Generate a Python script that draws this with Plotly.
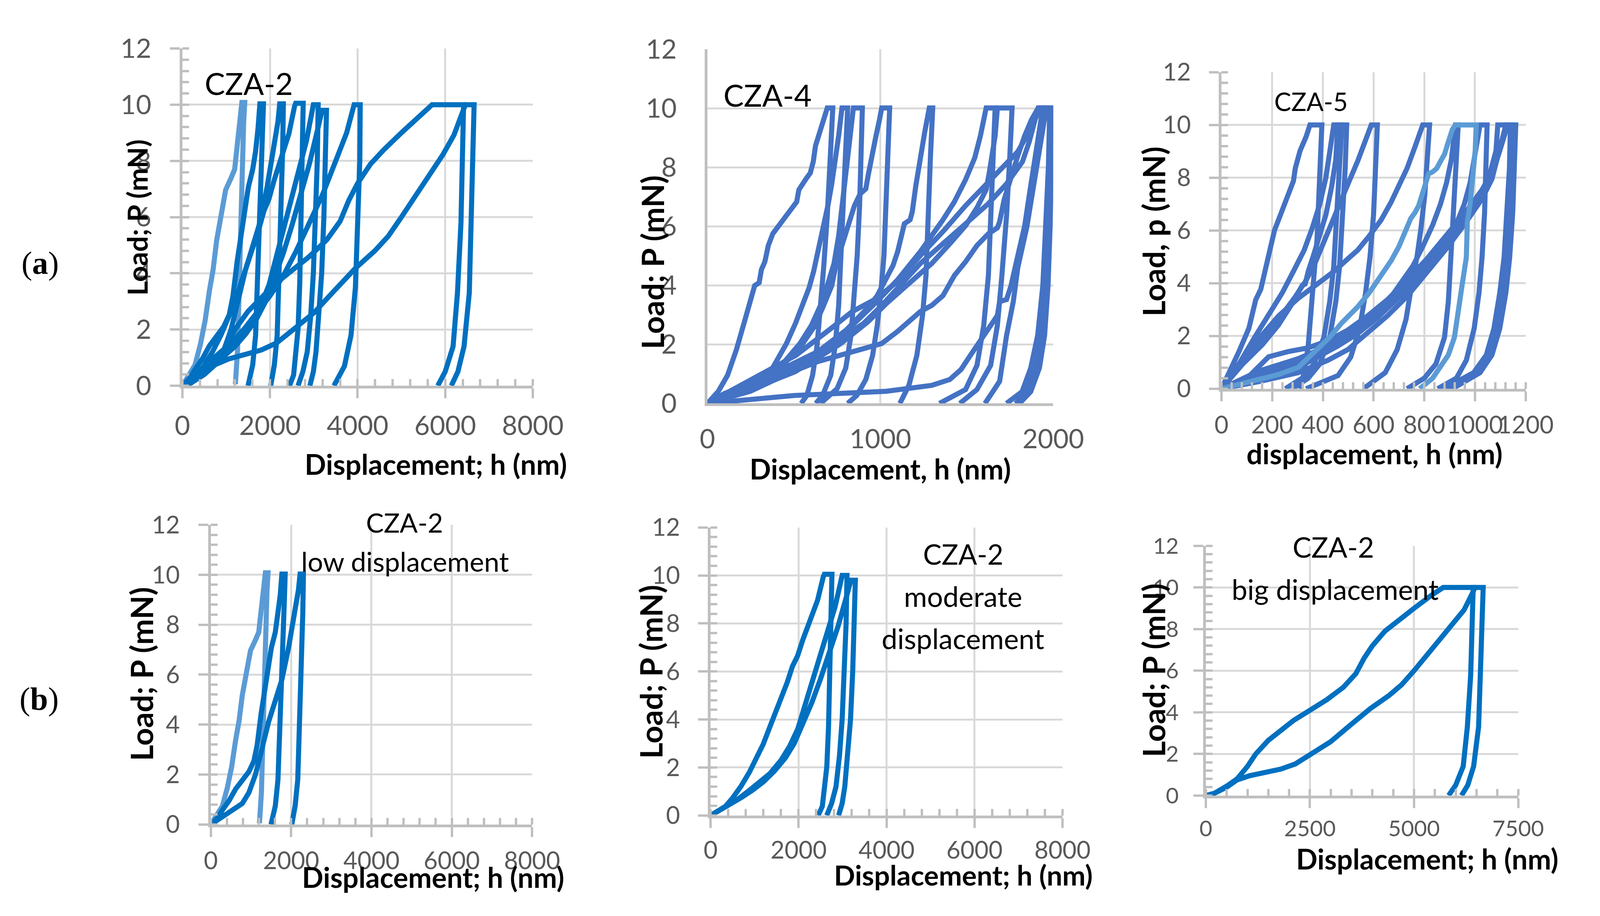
import plotly.graph_objects as go

# reference frame (px) used for positions; figure itself is sized to the captured viewport
RW, RH = 4377, 2344
FW, FH = 4085, 2336

# ---------------- CZA-2 loops (load P in mN vs displacement h in nm) ----------------
cza2_L_h = [0, 288, 412, 519, 617, 700, 782, 881, 988, 1111, 1193, 1259, 1317, 1358, 1424, 1399, 1358, 1317, 1259, 1210]
cza2_L_p = [0, 0.74, 1.48, 2.32, 3.38, 4.12, 5.17, 6.02, 6.97, 7.39, 7.7, 8.66, 9.39, 10.08, 10.08, 9.39, 7.07, 3.91, 1.27, 0.05]

cza2_A_h = [0, 165, 288, 453, 617, 782, 946, 1070, 1152, 1251, 1317, 1374, 1440, 1506, 1605, 1671, 1728, 1769, 1851, 1835, 1810, 1769, 1728, 1671, 1605, 1498]
cza2_A_p = [0, 0.26, 0.58, 0.95, 1.42, 1.79, 2.11, 2.53, 3.17, 4.43, 5.17, 5.80, 6.44, 7.07, 7.70, 8.34, 9.18, 10.03, 10.03, 9.18, 8.13, 6.02, 3.91, 1.79, 0.74, 0]

cza2_B_h = [0, 150, 370, 580, 782, 946, 1111, 1276, 1440, 1605, 1769, 1934, 2057, 2181, 2222, 2305, 2290, 2263, 2222, 2164, 2099, 2016]
cza2_B_p = [0, 0.15, 0.42, 0.62, 0.84, 1.27, 2.0, 3.06, 4.12, 4.96, 5.8, 7.07, 8.13, 9.39, 10.03, 10.03, 8.5, 7.07, 3.9, 1.79, 0.74, 0]

cza2_C_h = [0, 180, 336, 492, 688, 883, 1039, 1195, 1391, 1586, 1742, 1859, 1977, 2094, 2250, 2430, 2562, 2586, 2758, 2742, 2719, 2680, 2641, 2586, 2539, 2445]
cza2_C_p = [0, 0.22, 0.38, 0.71, 1.21, 1.81, 2.36, 2.97, 3.9, 4.79, 5.55, 6.21, 6.65, 7.31, 8.08, 8.96, 9.95, 10.05, 10.05, 8.08, 5.88, 3.68, 2.03, 0.93, 0.38, 0]

cza2_D_h = [0, 150, 350, 600, 850, 1100, 1350, 1600, 1800, 1980, 2150, 2320, 2490, 2660, 2830, 2990, 3100, 3080, 3040, 2990, 2930, 2850, 2750, 2640]
cza2_D_p = [0, 0.15, 0.35, 0.65, 1.0, 1.35, 1.75, 2.3, 2.9, 3.6, 4.6, 5.6, 6.6, 7.6, 8.7, 10.0, 10.0, 8.0, 6.0, 4.0, 2.5, 1.2, 0.5, 0]

cza2_E_h = [0, 200, 450, 700, 950, 1200, 1450, 1700, 1900, 2100, 2300, 2500, 2700, 2900, 3100, 3190, 3290, 3270, 3230, 3180, 3120, 3050, 2990, 2910]
cza2_E_p = [0, 0.2, 0.45, 0.75, 1.05, 1.4, 1.85, 2.4, 3.0, 3.8, 4.7, 5.7, 6.8, 7.9, 9.2, 9.8, 9.8, 8.0, 6.0, 4.0, 2.5, 1.2, 0.5, 0]

cza2_F_h = [0, 200, 500, 800, 1100, 1400, 1700, 2000, 2300, 2600, 2900, 3200, 3500, 3750, 3920, 4060, 4050, 4010, 3950, 3850, 3700, 3460]
cza2_F_p = [0, 0.3, 0.7, 1.1, 1.5, 2.0, 2.6, 3.2, 3.9, 4.8, 5.8, 6.8, 8.0, 9.0, 10.0, 10.0, 8.0, 6.0, 3.5, 1.8, 0.7, 0]

cza2_G_h = [0, 200, 500, 750, 1000, 1200, 1500, 1800, 2100, 2500, 2900, 3300, 3600, 3800, 4000, 4300, 4600, 5000, 5400, 5700, 6420, 6400, 6360, 6280, 6180, 6000, 5830]
cza2_G_p = [0, 0.1, 0.45, 0.8, 1.4, 2.0, 2.65, 3.15, 3.6, 4.1, 4.6, 5.2, 5.85, 6.6, 7.2, 7.9, 8.4, 9.0, 9.6, 10.0, 10.0, 8.4, 5.8, 3.3, 1.4, 0.5, 0]

cza2_H_h = [0, 200, 500, 750, 1050, 1350, 1800, 2150, 2500, 3000, 3450, 3950, 4400, 4700, 5000, 5350, 5650, 5950, 6200, 6420, 6460, 6660, 6640, 6600, 6550, 6430, 6290, 6140]
cza2_H_p = [0, 0.1, 0.4, 0.75, 0.95, 1.08, 1.27, 1.52, 1.96, 2.59, 3.35, 4.18, 4.81, 5.32, 6.0, 6.84, 7.59, 8.23, 8.92, 9.8, 10.0, 10.0, 8.4, 5.8, 3.3, 1.4, 0.5, 0]

# ---------------- CZA-4 loops ----------------
cza4_loops = [
    ([0, 63, 116, 168, 214, 247, 273, 299, 312, 332, 352, 378, 411, 450, 483, 516, 529, 549, 575, 595, 612, 625, 647, 673, 693, 725, 712, 693, 673, 654, 634, 608, 575, 542],
     [0, 0.41, 0.95, 1.83, 2.77, 3.52, 3.99, 4.09, 4.53, 4.80, 5.35, 5.75, 6.02, 6.36, 6.63, 6.83, 7.24, 7.44, 7.65, 7.81, 8.19, 8.73, 9.13, 9.61, 10.01, 10.01, 8.39, 6.36, 4.67, 3.32, 1.96, 0.95, 0.27, 0]),
    ([0, 100, 220, 312, 365, 404, 457, 509, 549, 588, 614, 640, 660, 680, 699, 719, 739, 759, 778, 811, 798, 785, 772, 759, 739, 713, 666, 627],
     [0, 0.34, 0.61, 0.81, 1.08, 1.49, 2.03, 2.71, 3.32, 3.92, 4.47, 5.14, 5.68, 6.22, 6.77, 7.44, 8.19, 9.07, 10.01, 10.01, 8.39, 6.7, 5.01, 3.32, 1.96, 0.95, 0.27, 0]),
    ([0, 142, 273, 378, 457, 535, 601, 654, 693, 732, 759, 778, 791, 804, 824, 844, 896, 890, 880, 866, 850, 830, 800, 750, 654],
     [0, 0.41, 0.68, 1.01, 1.49, 2.03, 2.64, 3.32, 3.99, 4.74, 5.68, 6.63, 7.37, 8.25, 9.2, 10.01, 10.01, 8.4, 6.7, 5.0, 3.6, 2.3, 1.2, 0.5, 0]),
    ([0, 181, 312, 444, 535, 614, 667, 719, 745, 772, 811, 850, 883, 916, 929, 949, 975, 995, 1008, 1054, 1047, 1034, 1021, 1001, 982, 955, 916, 864, 811],
     [0, 0.47, 0.74, 1.35, 1.89, 2.57, 3.25, 3.99, 4.74, 5.28, 6.02, 6.7, 7.1, 7.27, 7.71, 8.39, 9.07, 9.61, 10.01, 10.01, 9.07, 7.04, 5.01, 3.65, 2.64, 1.62, 0.81, 0.27, 0]),
    ([0, 247, 444, 575, 693, 772, 850, 929, 982, 1034, 1073, 1100, 1126, 1139, 1172, 1185, 1205, 1231, 1257, 1283, 1303, 1290, 1277, 1264, 1244, 1211, 1165, 1113],
     [0, 0.41, 0.95, 1.42, 1.89, 2.3, 2.77, 3.25, 3.65, 4.19, 4.67, 5.14, 5.68, 6.09, 6.22, 6.5, 7.37, 8.39, 9.2, 10.01, 10.01, 8.39, 6.36, 4.33, 2.98, 1.62, 0.61, 0]),
    ([0, 181, 378, 640, 837, 968, 1100, 1231, 1362, 1428, 1493, 1546, 1579, 1605, 1612, 1664, 1654, 1641, 1625, 1598, 1559, 1493, 1400, 1342],
     [0, 0.54, 1.01, 1.76, 2.64, 3.38, 4.19, 5.14, 6.22, 6.83, 7.58, 8.32, 9.07, 9.74, 10.01, 10.01, 8.39, 6.36, 4.33, 2.64, 1.29, 0.47, 0.15, 0]),
    ([0, 247, 509, 772, 929, 1034, 1165, 1297, 1402, 1493, 1559, 1612, 1631, 1644, 1664, 1677, 1762, 1749, 1730, 1703, 1677, 1638, 1559, 1460],
     [0, 0.47, 1.08, 2.03, 2.77, 3.38, 4.06, 4.74, 5.41, 6.02, 6.63, 7.24, 7.85, 8.39, 9.07, 10.01, 10.01, 8.39, 6.36, 4.33, 2.64, 1.29, 0.47, 0]),
    ([0, 509, 1034, 1297, 1402, 1467, 1520, 1572, 1638, 1677, 1690, 1730, 1756, 1782, 1808, 1835, 1861, 1887, 1913, 1940, 1990, 1985, 1975, 1960, 1935, 1900, 1850, 1782],
     [0, 0.27, 0.41, 0.61, 0.81, 1.15, 1.62, 2.1, 2.64, 2.98, 3.45, 3.52, 3.99, 4.67, 5.28, 6.02, 7.04, 8.05, 9.07, 10.01, 10.01, 8.0, 6.0, 4.0, 2.3, 1.2, 0.4, 0]),
    ([0, 378, 640, 903, 1008, 1100, 1231, 1297, 1362, 1428, 1493, 1559, 1625, 1677, 1690, 1716, 1756, 1795, 1835, 1874, 1913, 1980, 1972, 1958, 1940, 1910, 1870, 1820, 1730],
     [0, 0.81, 1.42, 1.83, 2.03, 2.44, 3.11, 3.32, 3.65, 4.33, 4.8, 5.35, 5.75, 5.95, 6.16, 6.9, 7.71, 8.39, 9.07, 9.61, 10.01, 10.01, 8.0, 6.0, 4.0, 2.3, 1.2, 0.4, 0]),
    ([0, 247, 509, 706, 837, 968, 1100, 1231, 1362, 1493, 1625, 1730, 1795, 1848, 1913, 1927, 1995, 1990, 1982, 1970, 1950, 1920, 1870, 1805],
     [0, 0.81, 1.62, 2.5, 3.11, 3.52, 4.13, 5.01, 5.82, 6.7, 7.51, 8.19, 8.53, 9.07, 9.88, 10.01, 10.01, 8.0, 6.0, 4.0, 2.3, 1.2, 0.4, 0]),
    ([0, 181, 378, 575, 772, 903, 1008, 1100, 1231, 1362, 1493, 1625, 1730, 1822, 1861, 1900, 1913, 1960, 1940, 1913, 1887, 1848, 1795, 1769, 1730, 1690, 1651, 1605],
     [0, 0.47, 0.95, 1.42, 2.17, 2.71, 3.32, 3.92, 4.74, 5.41, 6.09, 6.77, 7.44, 8.19, 8.86, 9.74, 10.01, 10.01, 9.3, 8.5, 7.4, 6.0, 4.6, 3.45, 2.3, 0.75, 0.4, 0]),
]

# ---------------- CZA-5 loops ----------------
cza5_loops = [
    ([0, 37, 69, 108, 135, 155, 178, 209, 233, 265, 284, 291, 310, 334, 349, 396, 392, 385, 377, 365, 353, 342, 326, 310],
     [0, 0.74, 1.41, 2.29, 3.37, 3.77, 4.78, 6.0, 6.6, 7.34, 7.88, 8.35, 9.02, 9.56, 10.0, 10.0, 9.02, 7.0, 5.66, 4.31, 2.96, 1.62, 0.61, 0]),
    ([0, 69, 131, 186, 240, 287, 326, 357, 388, 412, 427, 443, 475, 466, 455, 443, 427, 404, 365, 318, 252],
     [0, 0.94, 1.95, 2.76, 3.64, 4.51, 5.25, 6.06, 7.0, 8.01, 8.89, 10.0, 10.0, 8.35, 6.33, 4.65, 3.3, 1.95, 0.94, 0.4, 0]),
    ([0, 84, 162, 225, 279, 318, 330, 342, 365, 388, 412, 435, 451, 459, 494, 488, 478, 466, 451, 427, 388, 342, 279],
     [0, 0.94, 1.68, 2.42, 3.23, 3.91, 3.97, 4.44, 5.12, 5.79, 6.6, 7.68, 8.69, 10.0, 10.0, 8.35, 6.33, 4.65, 3.3, 1.95, 0.94, 0.4, 0]),
    ([0, 69, 147, 225, 287, 334, 373, 412, 459, 498, 537, 568, 591, 615, 610, 600, 586, 568, 545, 510, 460, 334],
     [0, 0.81, 1.68, 2.63, 3.43, 4.11, 4.85, 5.79, 6.87, 7.74, 8.62, 9.36, 10.0, 10.0, 8.35, 6.6, 5.0, 3.6, 2.3, 1.2, 0.5, 0]),
    ([0, 69, 147, 225, 303, 381, 443, 498, 537, 583, 630, 669, 700, 732, 763, 794, 821, 814, 802, 786, 771, 751, 728, 693, 646, 560],
     [0, 0.94, 1.89, 2.76, 3.43, 3.97, 4.44, 4.92, 5.25, 5.79, 6.4, 7.07, 7.68, 8.35, 9.16, 10.0, 10.0, 8.69, 7.34, 6.0, 4.98, 3.97, 2.63, 1.48, 0.61, 0]),
    ([0, 147, 303, 420, 498, 552, 615, 661, 708, 755, 794, 833, 864, 888, 907, 923, 934, 926, 918, 911, 903, 895, 880, 846, 800, 732],
     [0, 0.67, 1.14, 1.62, 1.95, 2.29, 2.83, 3.37, 3.97, 4.65, 5.39, 6.2, 7.0, 7.81, 8.69, 10.0, 10.0, 8.35, 7.0, 6.0, 4.65, 3.3, 1.95, 0.94, 0.4, 0]),
    ([0, 147, 303, 459, 537, 615, 693, 771, 833, 888, 927, 958, 981, 997, 1020, 1048, 1044, 1038, 1028, 1016, 997, 966, 927, 853],
     [0, 0.4, 0.81, 1.62, 2.09, 2.69, 3.37, 4.11, 4.78, 5.52, 6.26, 7.0, 7.81, 8.69, 10.0, 10.0, 8.35, 6.67, 4.98, 3.64, 2.29, 1.08, 0.4, 0]),
    ([0, 108, 186, 264, 342, 420, 498, 576, 654, 732, 810, 888, 966, 1028, 1075, 1098, 1114, 1129, 1161, 1157, 1149, 1137, 1122, 1098, 1067, 1020, 911],
     [0, 0.47, 1.21, 1.41, 1.55, 1.82, 2.22, 2.76, 3.37, 4.11, 4.92, 5.79, 6.73, 7.54, 8.35, 9.02, 9.56, 10.0, 10.0, 8.35, 6.67, 4.98, 3.64, 2.29, 1.28, 0.61, 0]),
    ([0, 147, 303, 420, 498, 576, 654, 732, 810, 888, 966, 1028, 1067, 1090, 1106, 1122, 1150, 1146, 1138, 1126, 1110, 1088, 1058, 1010, 897],
     [0, 0.27, 0.61, 1.08, 1.48, 2.09, 2.76, 3.5, 4.38, 5.32, 6.33, 7.2, 7.95, 8.82, 9.56, 10.0, 10.0, 8.35, 6.67, 4.98, 3.64, 2.29, 1.28, 0.61, 0]),
    ([0, 147, 303, 420, 498, 576, 654, 732, 810, 888, 966, 1028, 1059, 1083, 1090, 1140, 1136, 1128, 1115, 1098, 1075, 1045, 995, 878],
     [0, 0.47, 1.01, 1.62, 2.09, 2.63, 3.23, 3.91, 4.71, 5.59, 6.6, 7.47, 8.15, 9.02, 10.0, 10.0, 8.35, 6.67, 4.98, 3.64, 2.29, 1.28, 0.61, 0]),
]
cza5_light_h = [0, 108, 225, 303, 357, 396, 427, 474, 537, 583, 630, 669, 700, 732, 747, 763, 778, 802, 817, 833, 849, 864, 880, 895, 911, 923, 1005, 1001, 989, 981, 970, 966, 950, 934, 919, 895, 864, 833, 782]
cza5_light_p = [0, 0.27, 0.54, 0.81, 1.28, 1.68, 1.95, 2.49, 3.1, 3.64, 4.31, 4.85, 5.39, 6.06, 6.46, 6.67, 6.94, 7.68, 8.15, 8.22, 8.35, 8.62, 8.89, 9.36, 9.83, 10.0, 10.0, 9.02, 7.68, 7.0, 6.33, 4.98, 3.97, 2.96, 1.95, 1.28, 0.81, 0.4, 0]

DARK2 = "#0070C0"
LIGHT = "#5B9BD5"
DARK4 = "#4472C4"
GRID = "#d9d9d9"
AXIS = "#bfbfbf"
FONT = "Lato, 'Open Sans', sans-serif"

cza2_dark = {
    "A": (cza2_A_h, cza2_A_p), "B": (cza2_B_h, cza2_B_p), "C": (cza2_C_h, cza2_C_p),
    "D": (cza2_D_h, cza2_D_p), "E": (cza2_E_h, cza2_E_p), "F": (cza2_F_h, cza2_F_p),
    "G": (cza2_G_h, cza2_G_p), "H": (cza2_H_h, cza2_H_p),
}
cza2_light = (cza2_L_h, cza2_L_p)

# panel boxes in reference pixels: left, top, right, bottom
panels = [
    dict(box=(482, 76, 1467, 973), xmax=8000, dx=2000, mx=400, ticks=True, fs=68, ysd=34, xsd=12,
         curves=[(cza2_light, LIGHT)] + [(cza2_dark[k], DARK2) for k in "ABCDEFGH"]),
    dict(box=(1958, 78, 2930, 1020), xmax=2000, dx=1000, mx=None, ticks=False, fs=68, ysd=58, xsd=26,
         curves=[(c, DARK4) for c in cza4_loops]),
    dict(box=(3403, 139, 4258, 981), xmax=1200, dx=200, mx=40, ticks=True, fs=62, ysd=34, xsd=8,
         curves=[(c, DARK4) for c in cza5_loops] + [((cza5_light_h, cza5_light_p), LIGHT)]),
    dict(box=(562, 1343, 1465, 2140), xmax=8000, dx=2000, mx=400, ticks=True, fs=62, ysd=35, xsd=8,
         curves=[(cza2_light, LIGHT)] + [(cza2_dark[k], DARK2) for k in "AB"]),
    dict(box=(1967, 1350, 2956, 2116), xmax=8000, dx=2000, mx=400, ticks=True, fs=62, ysd=34, xsd=4,
         curves=[(cza2_dark[k], DARK2) for k in "CDE"]),
    dict(box=(3359, 1399, 4237, 2063), xmax=7500, dx=2500, mx=500, ticks=True, fs=57, ysd=26, xsd=4,
         curves=[(cza2_dark[k], DARK2) for k in "GH"]),
]

fig = go.Figure()
layout = {}
for i, pn in enumerate(panels, start=1):
    sfx = "" if i == 1 else str(i)
    l, t, r, b = pn["box"]
    for (h, p), col in pn["curves"]:
        fig.add_trace(go.Scatter(x=h, y=p, mode="lines", xaxis="x" + sfx, yaxis="y" + sfx,
                                 line=dict(color=col, width=13), hoverinfo="skip"))
    base = dict(showgrid=True, gridcolor=GRID, gridwidth=5, showline=True, linecolor=AXIS,
                linewidth=7, zeroline=False, fixedrange=True, tickangle=0,
                tickfont=dict(family=FONT, size=pn["fs"], color="#595959"))
    xa = dict(base, domain=[l / RW, r / RW], range=[0, pn["xmax"]], dtick=pn["dx"], tick0=0,
              anchor="y" + sfx)
    ya = dict(base, domain=[1 - b / RH, 1 - t / RH], range=[0, 12], dtick=2, tick0=0,
              anchor="x" + sfx)
    if pn["ticks"]:
        xa.update(ticks="outside", ticklen=25, tickwidth=6, tickcolor=AXIS,
                  ticklabelstandoff=pn["xsd"],
                  minor=dict(dtick=pn["mx"], ticks="inside", ticklen=17, tickwidth=6,
                             tickcolor=AXIS, showgrid=False))
        ya.update(ticks="outside", ticklen=25, tickwidth=6, tickcolor=AXIS,
                  ticklabelstandoff=pn["ysd"],
                  minor=dict(dtick=0.4, ticks="inside", ticklen=17, tickwidth=6,
                             tickcolor=AXIS, showgrid=False))
    else:
        xa.update(ticks="", ticklabelstandoff=pn["xsd"])
        ya.update(ticks="", ticklabelstandoff=pn["ysd"])
    layout["xaxis" + sfx] = xa
    layout["yaxis" + sfx] = ya


def ann(text, x, y, size, bold=False, angle=0, family=FONT, color="black"):
    if bold:
        text = "<b>" + text + "</b>"
    return dict(text=text, x=x / RW, y=1 - y / RH, xref="paper", yref="paper", showarrow=False,
                xanchor="center", yanchor="middle", textangle=angle,
                font=dict(family=family, size=size, color=color))


annotations = [
    # axis titles
    ann("Load; P (mN)", 354, 525, 71, bold=True, angle=-90),
    ann("Displacement; h (nm)", 1195, 1181, 72, bold=True),
    ann("Load; P (mN)", 1802, 645, 79, bold=True, angle=-90),
    ann("Displacement, h (nm)", 2444, 1193, 72, bold=True),
    ann("Load, p (mN)", 3212, 563, 78, bold=True, angle=-90),
    ann("displacement, h (nm)", 3833, 1153, 72, bold=True),
    ann("Load; P (mN)", 367, 1740, 79, bold=True, angle=-90),
    ann("Displacement; h (nm)", 1187, 2280, 72, bold=True),
    ann("Load; P (mN)", 1798, 1734, 79, bold=True, angle=-90),
    ann("Displacement; h (nm)", 2677, 2274, 71, bold=True),
    ann("Load; P (mN)", 3211, 1730, 79, bold=True, angle=-90),
    ann("Displacement; h (nm)", 3982, 2231, 72, bold=True),
    # sample labels
    ann("CZA-2", 669, 168, 78),
    ann("CZA-4", 2127, 200, 78),
    ann("CZA-5", 3654, 216, 65),
    ann("CZA-2", 1106, 1336, 68),
    ann("low displacement", 1108, 1440, 70),
    ann("CZA-2", 2677, 1420, 71),
    ann("moderate", 2677, 1532, 72),
    ann("displacement", 2677, 1644, 72),
    ann("CZA-2", 3718, 1401, 72),
    ann("big displacement", 3723, 1513, 72),
    # row labels
    ann("(<b>a</b>)", 82, 647, 82, family="'Liberation Serif', serif"),
    ann("(<b>b</b>)", 79, 1806, 82, family="'Liberation Serif', serif"),
]

fig.update_layout(width=FW, height=FH, margin=dict(l=0, r=0, t=0, b=0), showlegend=False,
                  paper_bgcolor="white", plot_bgcolor="white", annotations=annotations, **layout)

fig.write_html("out.html")
